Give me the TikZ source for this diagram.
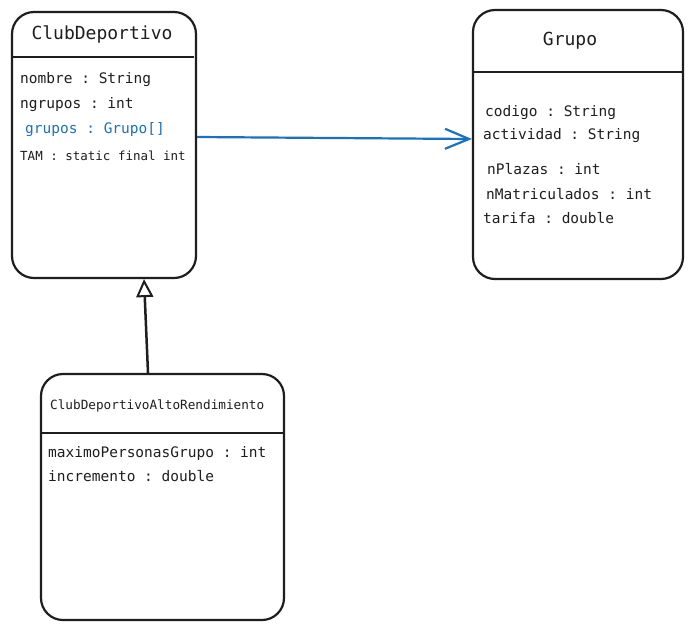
\documentclass[tikz,border=0pt]{standalone}
\usepackage{fontspec}
\setmonofont{DejaVu Sans Mono}
\usetikzlibrary{arrows.meta}
\definecolor{exblue}{HTML}{1971C2}
\definecolor{exink}{HTML}{1E1E1E}
\tikzset{
  classbox/.style={draw=exink, line width=2.2pt, rounded corners=22pt, rectangle, inner sep=0pt},
  divider/.style={draw=exink, line width=2.2pt},
  attr/.style={anchor=west, inner sep=0pt, font=\ttfamily\fontsize{14.5}{16}\selectfont, text=exink},
  small/.style={anchor=west, inner sep=0pt, font=\ttfamily\fontsize{12.5}{14}\selectfont, text=exink},
  title/.style={anchor=center, inner sep=0pt, font=\ttfamily\fontsize{18}{20}\selectfont, text=exink},
  assoc/.style={draw=exblue, line width=2.2pt, -{Straight Barb[length=24pt,width=20pt]}},
  inherit/.style={draw=exink, line width=2.5pt, -{Triangle[open,length=18pt 0 0,width=17pt 0 0,line width=2pt,fill=white]}}
}
\begin{document}
\begin{tikzpicture}[x=1pt,y=-1pt]
\useasboundingbox[fill=white] (0,0) rectangle (693,630);
% ClubDeportivo
\node[classbox, minimum width=184pt, minimum height=266pt] (club) at (104,145) {};
\node[title] (clubT) at (102,34) {ClubDeportivo};
\draw[divider] (12,57) -- (194,57);
\node[attr] (c1) at (20,80) {nombre : String};
\node[attr] (c2) at (20,105) {ngrupos : int};
\node[attr, text=exblue] (c3) at (25,130) {grupos : Grupo[]};
\node[small] (c4) at (20,156) {TAM : static final int};
% Grupo
\node[classbox, minimum width=210pt, minimum height=269pt] (grupo) at (578,144.5) {};
\node[title] (grupoT) at (570,41) {Grupo};
\draw[divider] (474,72) -- (682,72);
\node[attr] (g1) at (485,113) {codigo : String};
\node[attr] (g2) at (483,136) {actividad : String};
\node[attr] (g3) at (487,169) {nPlazas : int};
\node[attr] (g4) at (486,194) {nMatriculados : int};
\node[attr] (g5) at (483,218) {tarifa : double};
% ClubDeportivoAltoRendimiento
\node[classbox, minimum width=243pt, minimum height=246pt] (alto) at (162.5,497) {};
\node[small, font=\ttfamily\fontsize{12.7}{14}\selectfont] (altoT) at (50,406) {ClubDeportivoAltoRendimiento};
\draw[divider] (42,433) -- (285,433);
\node[attr] (a1) at (48,453) {maximoPersonasGrupo : int};
\node[attr] (a2) at (48,476) {incremento : double};
% connectors
\draw[assoc] ([yshift=8pt]club.east) -- ([yshift=5.5pt]grupo.west);
\draw[inherit] ([xshift=-14.5pt]alto.north) -- ([xshift=40pt]club.south);
\end{tikzpicture}
\end{document}
